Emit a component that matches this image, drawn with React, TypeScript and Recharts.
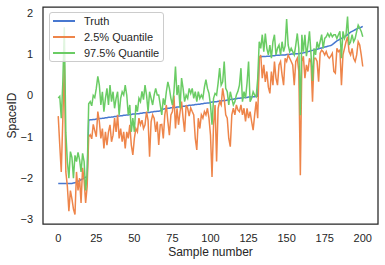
import React from 'react';
import { LineChart, Line, XAxis, YAxis, Legend, ReferenceArea, Label } from 'recharts';

// Ground truth (sorted), one value per sample 0..200
const truth: number[] = [
  -2.13, -2.13, -2.13, -2.13, -2.13, -2.13, -2.13, -2.13, -2.13, -2.13,
  -2.12, -2.11, -2.10, -2.08, -2.06, -2.04, -2.02, -2.00, -1.98, -1.97,
  -0.60, -0.59, -0.59, -0.58, -0.58, -0.57, -0.57, -0.56, -0.56, -0.55,
  -0.55, -0.54, -0.54, -0.53, -0.53, -0.52, -0.52, -0.51, -0.51, -0.50,
  -0.50, -0.49, -0.49, -0.48, -0.48, -0.47, -0.47, -0.46, -0.46, -0.45,
  -0.45, -0.45, -0.44, -0.44, -0.43, -0.43, -0.42,
  -0.42, -0.42, -0.41, -0.41, -0.40, -0.40, -0.39, -0.39, -0.38, -0.38,
  -0.37, -0.35, -0.33, -0.32, -0.32, -0.31, -0.31, -0.30, -0.30, -0.29,
  -0.29, -0.28, -0.28, -0.27, -0.27, -0.26, -0.26, -0.25, -0.25, -0.24, -0.24,
  -0.23, -0.23, -0.22, -0.22, -0.21, -0.21, -0.20, -0.20, -0.19, -0.19,
  -0.18, -0.18, -0.17, -0.16, -0.16, -0.15, -0.15, -0.14, -0.14, -0.13,
  -0.13, -0.12, -0.12, -0.11, -0.11, -0.10, -0.09, -0.09, -0.08, -0.08, -0.07,
  -0.07, -0.06, -0.06, -0.05, -0.05, -0.05, -0.04, -0.04, -0.04, -0.03,
  -0.03, -0.02, -0.02,
  0.93, 0.93, 0.94, 0.94, 0.94, 0.95, 0.95,
  0.95, 0.96, 0.96, 0.96, 0.97, 0.97, 0.97, 0.98, 0.98, 0.98,
  0.98, 0.99, 0.99, 0.99, 1.00, 1.00, 1.00, 1.01, 1.01, 1.01,
  1.02, 1.02, 1.03, 1.04, 1.05, 1.06, 1.07, 1.08, 1.09, 1.10,
  1.11, 1.12, 1.13, 1.14, 1.15, 1.16, 1.17, 1.18, 1.19, 1.20,
  1.21, 1.23, 1.26, 1.29, 1.32, 1.34, 1.36, 1.38, 1.40, 1.42,
  1.44, 1.47, 1.50, 1.53, 1.55, 1.57, 1.59, 1.61, 1.63, 1.64, 1.65, 1.67,
];

// 2.5% quantile
const q025: number[] = [
  -0.5, -1.2, -1.85, -0.6, 0.75, -1.85, -2.2, -2.8, -2.3, -2.5,
  -2.75, -2.88, -1.85, -2.3, -2.0, -2.6, -1.75, -2.05, -2.6, -2.2,
  -1.0, -0.95, -1.05, -0.7, -0.85, -1.0,
  -0.39, -0.63, -1.04, -0.8, -1.28, -0.88, -1.2, -0.88, -0.71, -1.12,
  -0.96, -0.55, -0.88, -0.47, -1.04, -0.8, -1.12, -0.88, -1.28, -0.88,
  -1.04, -0.71, -1.2, -1.44, -1.04, -0.8, -0.88, -0.55, -0.71, -0.6, -0.8,
  -0.71, -0.39, -0.6, -1.48, -0.63, -0.47, -0.55, -0.88, -0.63, -1.2,
  -0.71, -0.7, -1.04, -0.47, -0.23, -0.63, -0.96,
  -0.47, -0.39, 0.0, -0.8, -0.31, -0.71, -0.4, -0.15, -0.55, -0.88, -0.23, -0.31, -0.5, -0.3,
  -0.39, -0.47, -1.04, -1.32, -0.55, -0.8, -0.47, -0.55, -0.39, -0.47, -0.31,
  -0.55, -0.96, -1.97, -0.71, -0.23, -1.6, -0.31, -0.15, -0.23, 0.17,
  -0.07, -0.47, -0.55, -1.04, -1.24, -0.47, -0.31, -0.47, -0.23, -0.35,
  -0.39, -0.23, -0.47, -0.31, -0.63, -0.31, -0.55, -0.39, -0.63, -0.84,
  -0.47, -0.15, -0.55, 0.9, 0.98, 0.42, 0.74, 0.33, 0.58, 0.2,
  0.05, 0.58, 0.25, 0.82, 0.42, 0.25, 0.74, 0.82, 0.5, 0.25,
  0.9, 0.82, 0.98, 0.9, 0.82, 0.74, 0.25, 0.82, 0.9, 0.58,
  -1.93, 0.82, 0.95, 0.42, 0.74, 0.58, 0.9, 0.8, -0.15, 0.9,
  0.9, 0.82, 0.33, 1.02, 1.1, 1.06, 0.98, 1.06, 0.95, 0.9,
  0.95, 1.02, 0.58, 0.54, 1.14, 1.06, 1.1, 0.25, 0.98, 1.14,
  1.3, 1.42, 1.06, 0.98, 1.14, 0.9, 0.82, 0.98, 1.3, 1.22, 0.98, 0.7,
];

// 97.5% quantile
const q975: number[] = [
  -0.06, -0.02, -0.55, 0.3, 1.65, -0.9, -1.6, -2.0, -1.36, -1.5,
  -2.0, -1.45, -1.6, -1.38, -1.55, -1.85, -1.4, -1.6, -2.3, -1.9,
  -0.2, -0.15, -0.25, 0.0, -0.05, 0.17, 0.46, 0.25, -0.23, 0.09,
  -0.39, -0.07, 0.17, -0.23, 0.25, -0.15, 0.09, -0.31, -0.07, 0.09,
  -0.47, -0.07, 0.09, 0.01, 0.25, 0.01, -0.47, -0.23, -0.88, -0.55,
  -0.88, -0.23, -0.39, -0.07, -0.15, 0.1, -0.1,
  0.25, 0.01, -0.39, 0.09, -0.07, -0.23, 0.01, 0.17, 0.01, 0.01,
  -0.23, -0.47, -0.07, -0.23, 0.09, 0.33, 0.17, -0.07, -0.23, 0.09,
  0.7, 0.01, 0.25, -0.31, 0.42, 0.17, -0.15, 0.01, -0.07, 0.17, 0.05,
  0.17, -0.07, 0.09, -0.15, 0.09, -0.07, 0.01, -0.07, 0.2, 0.38,
  0.17, 0.05, -0.23, -0.71, -0.07, 0.05, 0.01, 0.3, 0.66, 0.25,
  0.33, 0.82, 0.17, 0.09, -0.23, 0.09, -0.07, -0.23, -0.15, 0.01, 0.1,
  0.25, 0.66, -0.15, 0.09, -0.07, 0.3, 0.82, -0.15, -0.07, 0.09,
  0.01, -0.03, 0.4, 1.3, 1.14, 1.47, 1.06, 1.5, 1.14, 0.98,
  1.22, 0.9, 1.3, 1.47, 0.98, 1.14, 1.22, 0.98, 1.3, 1.06,
  1.2, 1.85, 1.22, 1.06, 1.14, 1.06, 0.98, 1.22, 1.5, 1.14,
  -0.48, 1.47, 1.06, 1.47, 0.95, 1.22, 1.55, 1.0, 0.35, 1.14,
  0.98, 1.3, 1.14, 1.3, 1.47, 1.14, 1.38, 1.42, 1.5, 1.42,
  1.5, 1.42, 1.47, 1.47, 1.38, 1.47, 1.55, 0.9, 1.55, 1.38,
  1.47, 1.91, 1.22, 1.3, 1.47, 1.3, 1.38, 1.55, 1.7, 1.63, 1.55, 1.42,
];

const xTicks = [0, 25, 50, 75, 100, 125, 150, 175, 200];
const yTicks = [-3, -2, -1, 0, 1, 2];
const xDomain: [number, number] = [-10, 210];
const yDomain: [number, number] = [-3.11, 2.14];

const seriesNames = ['Truth', '2.5% Quantile', '97.5% Quantile'];
const seriesColors = ['#4878d0', '#ee854a', '#6acc64'];

const data = truth.map((t, i) => ({ sample: i, truth: t, q025: q025[i], q975: q975[i] }));

const FONT = '"Liberation Sans", Arial, "DejaVu Sans", sans-serif';
const INK = '#262626';

const fmt = (v: number) => (v < 0 ? '\u2212' + Math.abs(v) : String(v));

const renderLegend = () => (
  <div
    style={{
      width: 115,
      height: 50,
      boxSizing: 'border-box',
      border: '1px solid #cccccc',
      borderRadius: 3,
      background: 'rgba(255,255,255,0.8)',
      fontFamily: FONT,
      fontSize: 11,
      color: INK,
      paddingLeft: 3,
    }}
  >
    {seriesNames.map((n, k) => (
      <div key={n} style={{ display: 'flex', alignItems: 'center', height: 16 }}>
        <span
          style={{
            display: 'inline-block',
            width: 22,
            height: 2,
            background: seriesColors[k],
            marginRight: 9,
          }}
        />
        <span style={{ whiteSpace: 'nowrap' }}>{n}</span>
      </div>
    ))}
  </div>
);

const XLabel = (props: any) => {
  const vb = props.viewBox || {};
  return (
    <text x={vb.x + vb.width / 2} y={vb.y + 32} textAnchor="middle" fill={INK} fontSize={12} fontFamily={FONT}>
      Sample number
    </text>
  );
};

const YLabel = (props: any) => {
  const vb = props.viewBox || {};
  const x = vb.x + 16;
  const y = vb.y + vb.height / 2;
  return (
    <text x={x} y={y} transform={`rotate(-90, ${x}, ${y})`} textAnchor="middle" fill={INK} fontSize={12} fontFamily={FONT}>
      SpaceID
    </text>
  );
};

export default function App() {
  return (
    <div style={{ position: 'absolute', left: 0, top: 0, width: 385, height: 265, background: '#fff' }}>
      <LineChart width={385} height={265} data={data} margin={{ top: 7, right: 7, bottom: 0, left: 0 }}>
        <XAxis
          dataKey="sample"
          type="number"
          domain={xDomain}
          ticks={xTicks}
          allowDataOverflow
          tickLine={false}
          axisLine={false}
          tickSize={0}
          tickMargin={10}
          height={41}
          tick={{ fill: INK, fontSize: 11, fontFamily: FONT }}
        >
          <Label content={XLabel} />
        </XAxis>
        <YAxis
          type="number"
          domain={yDomain}
          ticks={yTicks}
          allowDataOverflow
          tickFormatter={fmt}
          tickLine={false}
          axisLine={false}
          tickSize={0}
          tickMargin={10}
          width={43}
          tick={{ fill: INK, fontSize: 11, fontFamily: FONT }}
        >
          <Label content={YLabel} />
        </YAxis>
        <Line type="linear" dataKey="truth" name={seriesNames[0]} stroke={seriesColors[0]} strokeWidth={1.5} dot={false} isAnimationActive={false} />
        <Line type="linear" dataKey="q025" name={seriesNames[1]} stroke={seriesColors[1]} strokeWidth={1.5} dot={false} isAnimationActive={false} />
        <Line type="linear" dataKey="q975" name={seriesNames[2]} stroke={seriesColors[2]} strokeWidth={1.5} dot={false} isAnimationActive={false} />
        <ReferenceArea
          x1={xDomain[0]}
          x2={xDomain[1]}
          y1={yDomain[0]}
          y2={yDomain[1]}
          fill="none"
          fillOpacity={0}
          stroke={INK}
          strokeWidth={1.25}
          ifOverflow="visible"
        />
        <Legend
          layout="vertical"
          align="center"
          verticalAlign="middle"
          content={renderLegend}
          wrapperStyle={{ left: 49, top: 12, width: 115, height: 50 }}
        />
      </LineChart>
    </div>
  );
}
